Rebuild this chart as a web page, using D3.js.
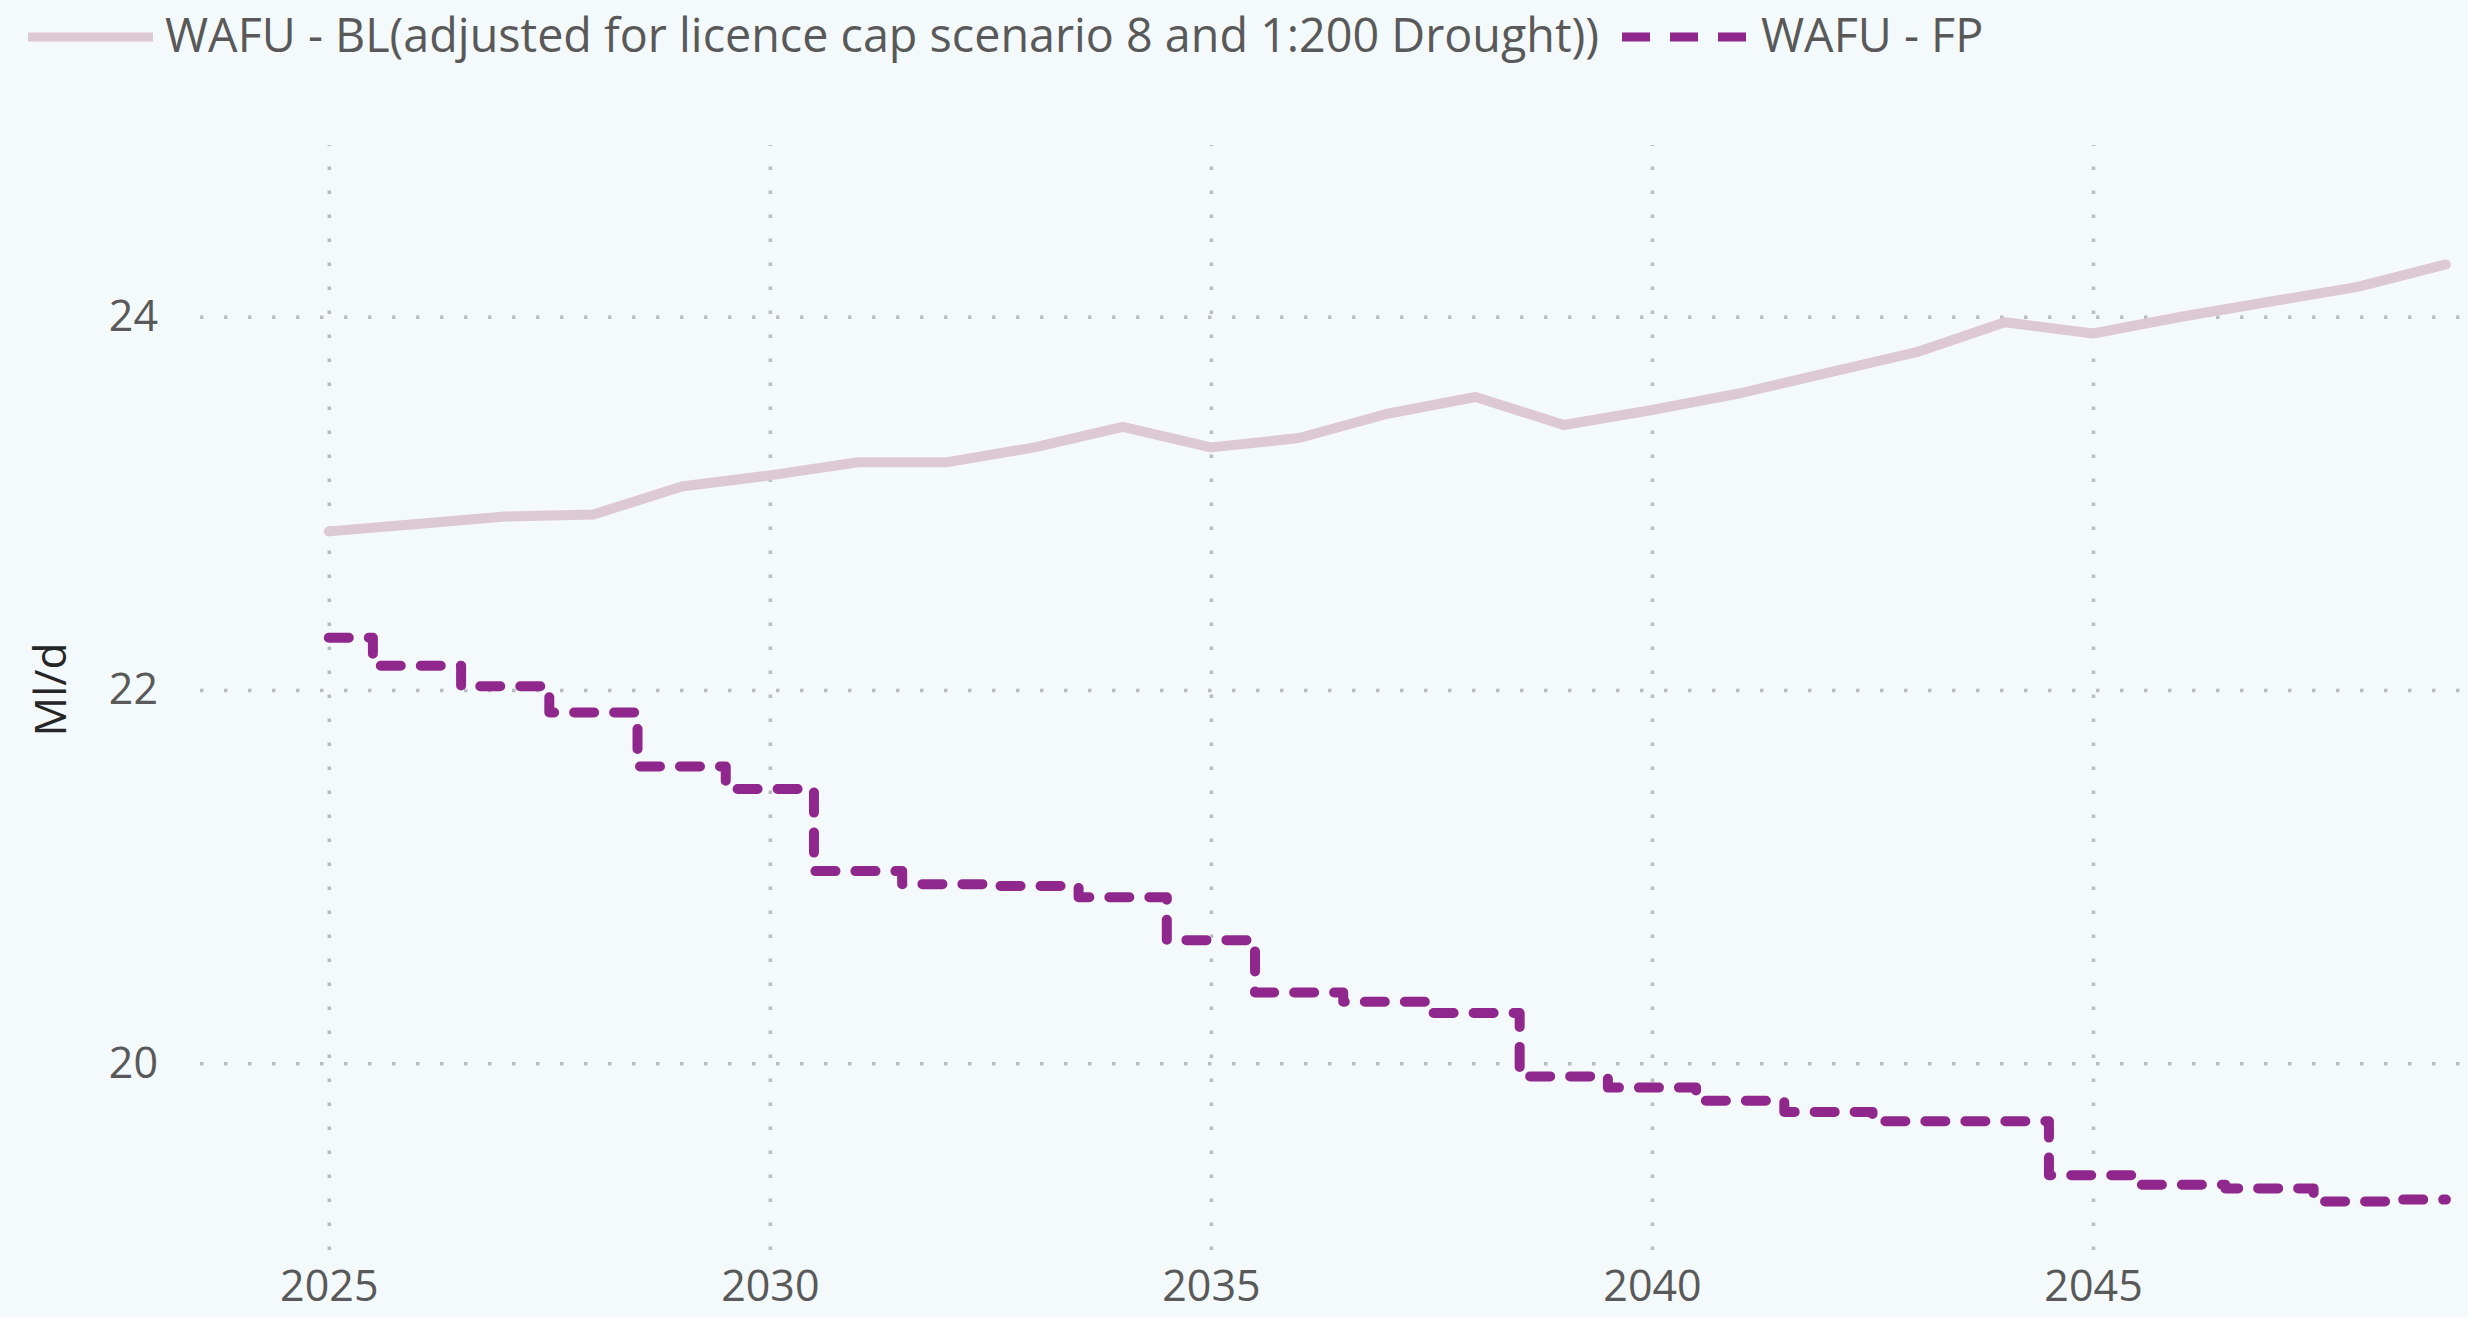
<!DOCTYPE html>
<html>
<head>
<meta charset="utf-8">
<script src="https://cdn.jsdelivr.net/npm/d3@7"></script>
<style>
  html, body { margin: 0; padding: 0; background: #F4F9FB; }
  svg { display: block; }
  text { font-family: "Open Sans", sans-serif; }
</style>
</head>
<body>
<svg id="chart" width="2468" height="1317"></svg>
<script>
// ---- data ----
const years = [2025, 2026, 2027, 2028, 2029, 2030, 2031, 2032, 2033, 2034, 2035, 2036, 2037,
               2038, 2039, 2040, 2041, 2042, 2043, 2044, 2045, 2046, 2047, 2048, 2049];
const blValues = [22.85, 22.89, 22.93, 22.94, 23.09, 23.15, 23.22, 23.22, 23.30, 23.41, 23.30, 23.35, 23.48,
                  23.57, 23.42, 23.50, 23.59, 23.70, 23.81, 23.97, 23.91, 24.00, 24.08, 24.16, 24.28];
const fpValues = [22.28, 22.13, 22.02, 21.88, 21.59, 21.47, 21.03, 20.96, 20.95, 20.89, 20.66, 20.38, 20.33,
                  20.27, 19.93, 19.87, 19.80, 19.74, 19.69, 19.69, 19.40, 19.35, 19.33, 19.26, 19.27];
const xTicks = [2025, 2030, 2035, 2040, 2045];
const yTicks = [20, 22, 24];
const seriesNames = ["WAFU - BL(adjusted for licence cap scenario 8 and 1:200 Drought))", "WAFU - FP"];
const yTitle = "Ml/d";

// ---- layout ----
const W = 2468, H = 1317;
const plot = { left: 200, right: 2490, top: 145, bottom: 1250 };
const colBL = "#DDC9D3", colFP = "#8F278D", gridCol = "#BABCBE", textCol = "#595959";

const svg = d3.select("#chart");
svg.append("rect").attr("width", W).attr("height", H).attr("fill", "#F4F9FB");

const x = d3.scaleLinear().domain([2023.54, 2049.5]).range([plot.left, plot.right]);
const y = d3.scaleLinear().domain([19.0, 24.92]).range([plot.bottom, plot.top]);

// y axis + horizontal gridlines
const gy = svg.append("g").attr("transform", `translate(${plot.left},0)`)
  .call(d3.axisLeft(y).tickValues(yTicks).tickFormat(d3.format("d"))
        .tickSize(-(W - plot.left)).tickPadding(42));
gy.select(".domain").remove();
gy.selectAll(".tick line").attr("stroke", gridCol).attr("stroke-width", 3.5).attr("stroke-dasharray", "3.5,20.5");
gy.selectAll(".tick text").attr("fill", textCol).style("font-size", "43px");

// x axis + vertical gridlines
const gx = svg.append("g").attr("transform", `translate(0,${plot.bottom})`)
  .call(d3.axisBottom(x).tickValues(xTicks).tickFormat(d3.format("d"))
        .tickSize(-(plot.bottom - plot.top)).tickPadding(20));
gx.select(".domain").remove();
gx.selectAll(".tick line").attr("stroke", gridCol).attr("stroke-width", 3.5).attr("stroke-dasharray", "3.5,20.5");
gx.selectAll(".tick text").attr("fill", textCol).style("font-size", "43px");

// y title
svg.append("text")
  .attr("transform", `translate(66,${(plot.top + plot.bottom) / 2 - 8}) rotate(-90)`)
  .attr("text-anchor", "middle")
  .attr("fill", "#262626")
  .style("font-size", "44px")
  .text(yTitle);

// lines
const blData = years.map((yr, i) => [yr, blValues[i]]);
const fpData = years.map((yr, i) => [yr, fpValues[i]]);

svg.append("path")
  .datum(blData)
  .attr("fill", "none")
  .attr("stroke", colBL)
  .attr("stroke-width", 10)
  .attr("stroke-linecap", "round")
  .attr("stroke-linejoin", "round")
  .attr("d", d3.line().x(d => x(d[0])).y(d => y(d[1])));

svg.append("path")
  .datum(fpData)
  .attr("fill", "none")
  .attr("stroke", colFP)
  .attr("stroke-width", 10)
  .attr("stroke-linecap", "round")
  .attr("stroke-linejoin", "round")
  .attr("stroke-dasharray", "20,20")
  .attr("d", d3.line().curve(d3.curveStep).x(d => x(d[0])).y(d => y(d[1])));

// legend
const lg = svg.append("g");
lg.append("line").attr("x1", 28).attr("x2", 153).attr("y1", 37).attr("y2", 37)
  .attr("stroke", colBL).attr("stroke-width", 9);
lg.append("text").attr("x", 165).attr("y", 52).attr("fill", textCol)
  .style("font-size", "46.7px").text(seriesNames[0]);
lg.append("line").attr("x1", 1622).attr("x2", 1749).attr("y1", 37).attr("y2", 37)
  .attr("stroke", colFP).attr("stroke-width", 9).attr("stroke-dasharray", "28,20");
lg.append("text").attr("x", 1761).attr("y", 52).attr("fill", textCol)
  .style("font-size", "46.7px").text(seriesNames[1]);
</script>
</body>
</html>
